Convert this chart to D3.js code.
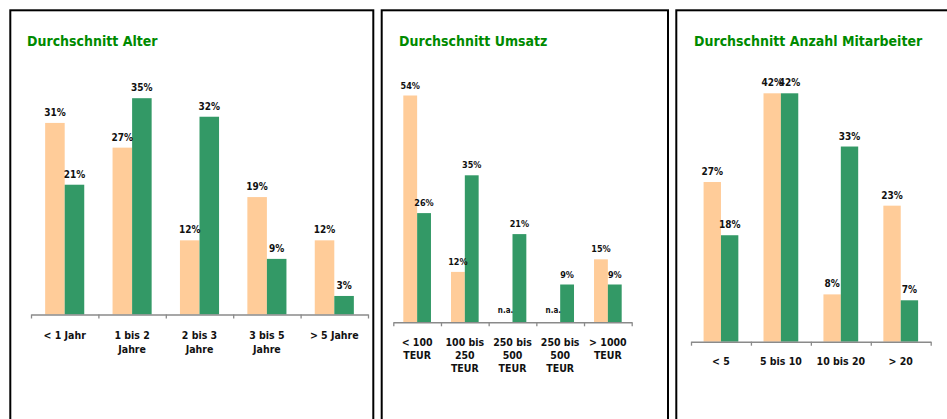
<!DOCTYPE html>
<html>
<head>
<meta charset="utf-8">
<script src="https://cdn.jsdelivr.net/npm/d3@7"></script>
<style>
  html, body { margin: 0; padding: 0; background: #fff; }
  svg { display: block; }
  text { font-family: "DejaVu Sans Condensed", "DejaVu Sans", sans-serif; font-stretch: condensed; font-weight: bold; }
</style>
</head>
<body>
<svg id="chart" width="947" height="419"></svg>
<script>
// ---- data ----
const titleAlter = "Durchschnitt Alter";
const catsAlter = ["< 1 Jahr", "1 bis 2\nJahre", "2 bis 3\nJahre", "3 bis 5\nJahre", "> 5 Jahre"];
const orangeAlter = [31, 27, 12, 19, 12];
const greenAlter = [21, 35, 32, 9, 3];

const titleUmsatz = "Durchschnitt Umsatz";
const catsUmsatz = ["< 100\nTEUR", "100 bis\n250\nTEUR", "250 bis\n500\nTEUR", "250 bis\n500\nTEUR", "> 1000\nTEUR"];
const orangeUmsatz = [54, 12, null, null, 15];
const greenUmsatz = [26, 35, 21, 9, 9];

const titleMitarb = "Durchschnitt Anzahl Mitarbeiter";
const catsMitarb = ["< 5", "5 bis 10", "10 bis 20", "> 20"];
const orangeMitarb = [27, 42, 8, 23];
const greenMitarb = [18, 42, 33, 7];

const naLabel = "n.a.";

// ---- styles ----
const ORANGE = "#FFCC99", GREEN = "#339966", TITLE = "#008a00";

const svg = d3.select("#chart");

const panels = [
  { box: [10.3, 10.3, 373.3], title: titleAlter, tx: 27, cats: catsAlter, a: orangeAlter, b: greenAlter,
    x: [31, 368], base: 314.5, vmax: 35, ytop: 98.2, labelSize: 10, catSize: 10.5, catDy: 24.8, lineH: 13.8 },
  { box: [381.7, 10.3, 668], title: titleUmsatz, tx: 399, cats: catsUmsatz, a: orangeUmsatz, b: greenUmsatz,
    x: [393.3, 631.7], base: 322.3, vmax: 54, ytop: 95.5, labelSize: 9, catSize: 10.5, catDy: 23.5, lineH: 12.9 },
  { box: [676.3, 10.3, 980], title: titleMitarb, tx: 694, cats: catsMitarb, a: orangeMitarb, b: greenMitarb,
    x: [691, 930.7], base: 341.7, vmax: 42, ytop: 93.3, labelSize: 10, catSize: 10.5, catDy: 23.3, lineH: 13.8 }
];

panels.forEach(p => {
  const g = svg.append("g");
  // frame
  g.append("rect")
    .attr("x", p.box[0]).attr("y", p.box[1])
    .attr("width", p.box[2] - p.box[0]).attr("height", 460)
    .attr("fill", "none").attr("stroke", "#000").attr("stroke-width", 2);

  // title
  g.append("text").attr("x", p.tx).attr("y", 45.5)
    .attr("fill", TITLE).style("font-size", "14px").text(p.title);

  const idx = d3.range(p.cats.length);
  const x0 = d3.scaleBand().domain(idx).range(p.x).paddingInner(0).paddingOuter(0);
  const bw = x0.bandwidth();
  const x1 = d3.scaleBand().domain(["a", "b"]).range([bw * 0.21, bw * 0.79]).padding(0);
  const y = d3.scaleLinear().domain([0, p.vmax]).range([p.base, p.ytop]);

  const data = [];
  idx.forEach(i => {
    data.push({ i, s: "a", v: p.a[i], c: ORANGE });
    data.push({ i, s: "b", v: p.b[i], c: GREEN });
  });

  g.selectAll("rect.bar").data(data.filter(d => d.v != null)).join("rect")
    .attr("class", "bar")
    .attr("x", d => x0(d.i) + x1(d.s))
    .attr("width", x1.bandwidth())
    .attr("y", d => y(d.v))
    .attr("height", d => p.base - y(d.v))
    .attr("fill", d => d.c);

  // axis
  const xl = d3.scaleLinear().domain([0, p.cats.length]).range(p.x);
  const ax = g.append("g").attr("transform", `translate(0,${p.base})`)
    .call(d3.axisBottom(xl).tickValues(d3.range(p.cats.length + 1)).tickFormat("").tickSizeInner(4).tickSizeOuter(0));
  ax.select(".domain").attr("stroke", "#8a8a8a").attr("stroke-width", 1.6);
  ax.selectAll(".tick line").attr("stroke", "#8a8a8a").attr("stroke-width", 1.3);

  // value labels
  g.selectAll("text.val").data(data).join("text")
    .attr("class", "val")
    .attr("x", d => x0(d.i) + x1(d.s) + x1.bandwidth() / 2)
    .attr("y", d => d.v == null ? p.base - 9 : y(d.v) - 7)
    .attr("text-anchor", "middle")
    .style("font-size", d => (d.v == null ? 8 : p.labelSize) + "px")
    .attr("fill", "#111")
    .text(d => d.v == null ? naLabel : d.v + "%");

  // category labels
  const cl = g.selectAll("text.cat").data(idx).join("text")
    .attr("class", "cat")
    .attr("text-anchor", "middle")
    .attr("fill", "#111")
    .style("font-size", p.catSize + "px");
  cl.each(function(i) {
    const lines = p.cats[i].split("\n");
    d3.select(this).selectAll("tspan").data(lines).join("tspan")
      .attr("x", x0(i) + bw / 2)
      .attr("y", (d, k) => p.base + p.catDy + k * p.lineH)
      .text(d => d);
  });
});
</script>
</body>
</html>
